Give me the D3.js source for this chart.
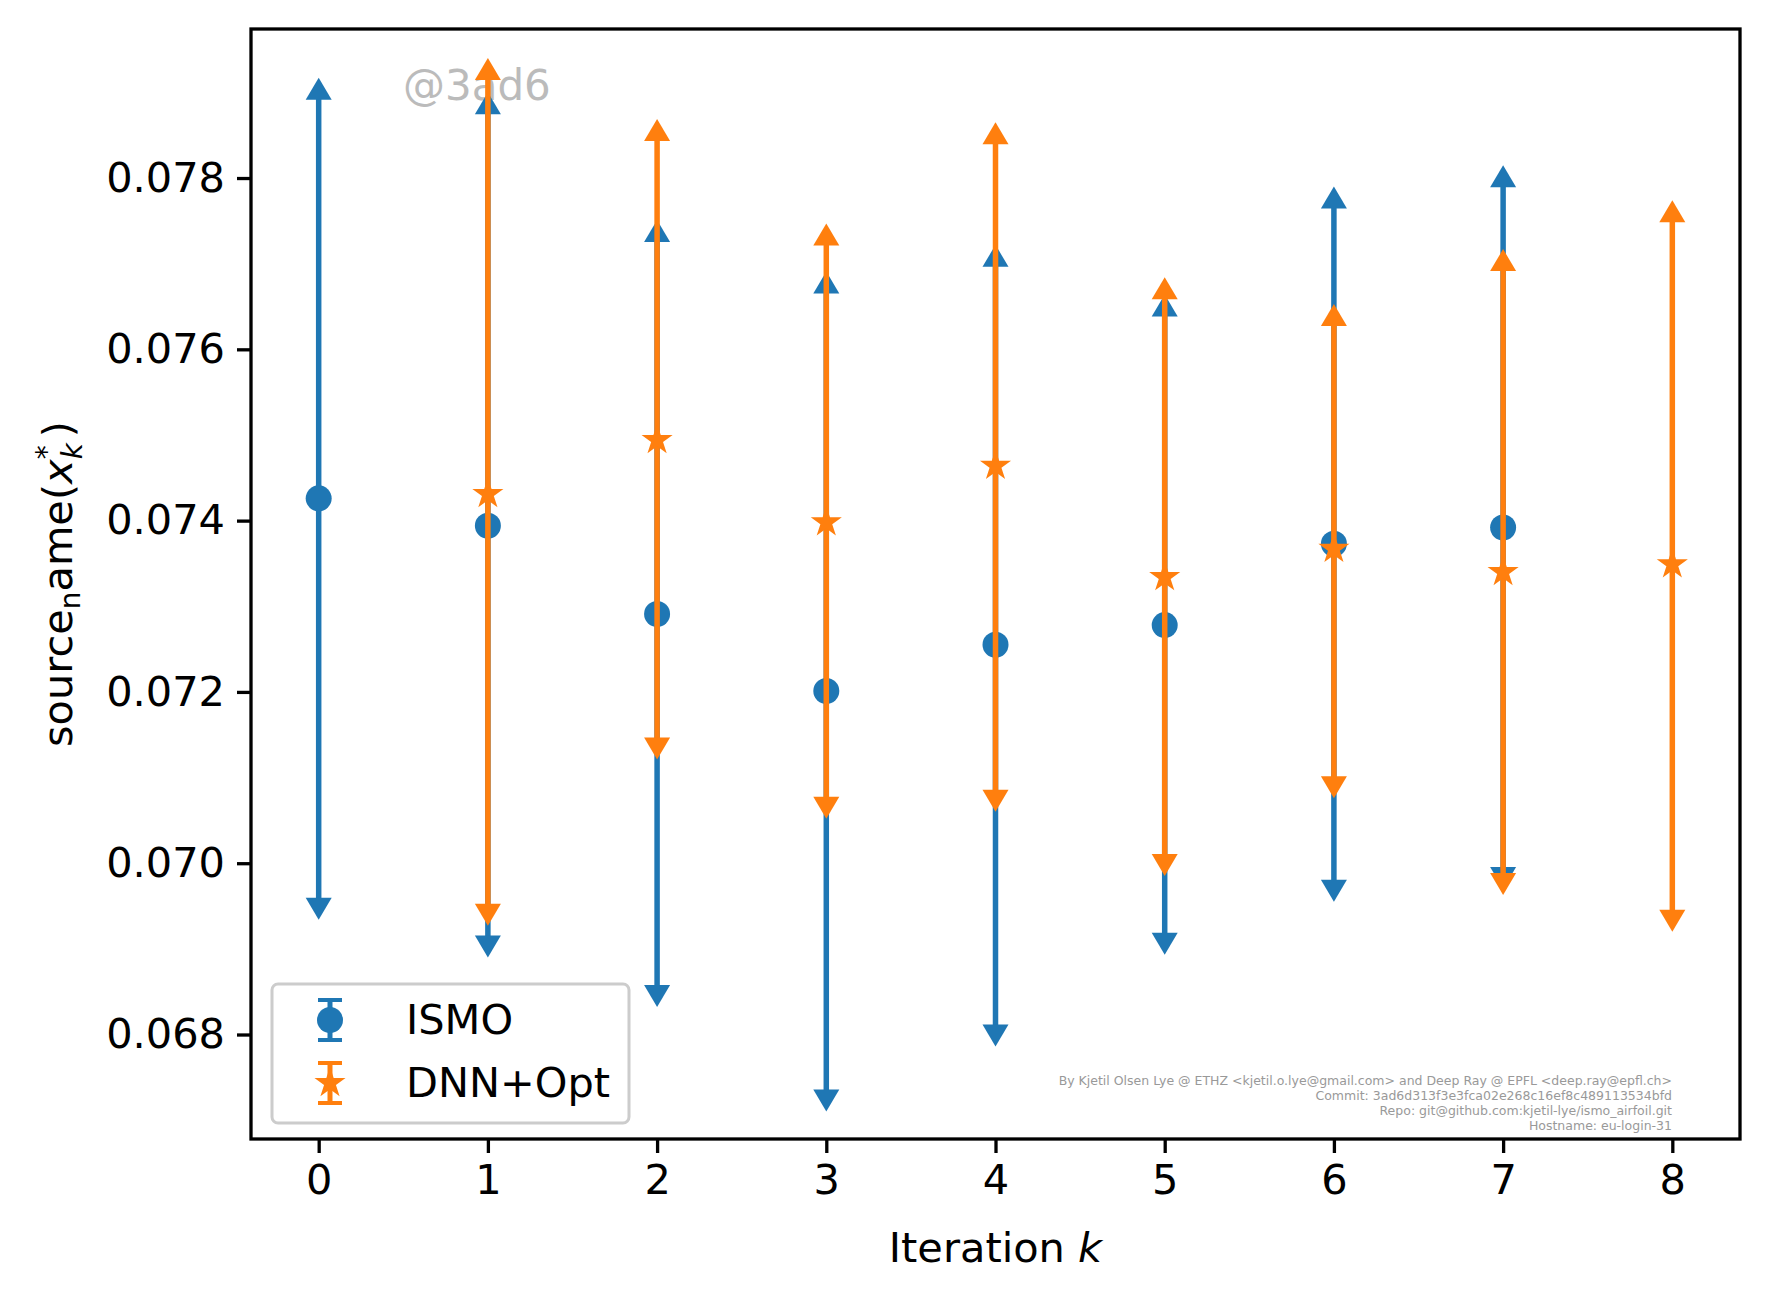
<!DOCTYPE html>
<html><head><meta charset="utf-8">
<script src="https://cdn.jsdelivr.net/npm/d3@7"></script>
<style>body{margin:0;background:#fff}text{font-family:"DejaVu Sans",sans-serif}</style>
</head><body>
<script>
var ismoK    = [0, 1, 2, 3, 4, 5, 6, 7]
var ismoMean = [0.07426, 0.07394, 0.07291, 0.07201, 0.07255, 0.07278, 0.07373, 0.07392]
var ismoHigh = [0.07903, 0.07886, 0.07737, 0.07677, 0.07708, 0.07650, 0.07776, 0.07801]
var ismoLow  = [0.06948, 0.06904, 0.06846, 0.06724, 0.06800, 0.06907, 0.06969, 0.06984]
var dnnK    = [1, 2, 3, 4, 5, 6, 7, 8]
var dnnMean = [0.07431, 0.07494, 0.07398, 0.07464, 0.07334, 0.07367, 0.07340, 0.07349]
var dnnHigh = [0.07926, 0.07855, 0.07733, 0.07851, 0.07670, 0.07639, 0.07703, 0.07760]
var dnnLow  = [0.06941, 0.07135, 0.07066, 0.07074, 0.06999, 0.07090, 0.06977, 0.06934]
var yTicks = [0.068, 0.070, 0.072, 0.074, 0.076, 0.078]
var xTicks = [0, 1, 2, 3, 4, 5, 6, 7, 8]

var W = 1767, H = 1298
var L = 251, R = 1740, T = 29, B = 1139
var svg = d3.select("body").append("svg").attr("width", W).attr("height", H)

var x = d3.scaleLinear().domain([-0.4, 8.4]).range([L, R])
var y = d3.scaleLinear().domain([0.06678, 0.07974]).range([B, T])

// axes
var xAxis = svg.append("g").attr("transform", "translate(0," + B + ")")
    .call(d3.axisBottom(x).tickValues(xTicks).tickSize(14).tickPadding(12).tickFormat(d3.format("d")))
var yAxis = svg.append("g").attr("transform", "translate(" + L + ",0)")
    .call(d3.axisLeft(y).tickValues(yTicks).tickSize(14).tickPadding(12).tickFormat(d3.format(".3f")))
;[xAxis, yAxis].forEach(function(a) {
    a.select(".domain").remove()
    a.selectAll("line").attr("stroke", "#000").attr("stroke-width", 3.3)
    a.selectAll("text").attr("font-size", 41.5).attr("fill", "#000").style("font-family", "DejaVu Sans")
})
svg.append("rect").attr("x", L).attr("y", T).attr("width", R - L).attr("height", B - T)
    .attr("fill", "none").attr("stroke", "#000").attr("stroke-width", 3.3)

// watermark
svg.append("text").attr("x", 403).attr("y", 100).attr("font-size", 42).attr("fill", "#bbb").text("@3ad6")

function triUp(cx, cy) { return "M" + (cx - 13) + "," + (cy + 10) + "L" + cx + "," + (cy - 12) + "L" + (cx + 13) + "," + (cy + 10) + "Z" }
function triDown(cx, cy) { return "M" + (cx - 13) + "," + (cy - 10) + "L" + cx + "," + (cy + 12) + "L" + (cx + 13) + "," + (cy - 10) + "Z" }
var star = d3.symbol().type(d3.symbolStar).size(300)

function series(ks, mean, hi, lo, color, kind) {
    var g = svg.append("g")
    ks.forEach(function(k, i) {
        var cx = x(k)
        g.append("line").attr("x1", cx).attr("x2", cx).attr("y1", y(lo[i])).attr("y2", y(hi[i]))
            .attr("stroke", color).attr("stroke-width", 5.5)
        g.append("path").attr("d", triUp(cx, y(hi[i]))).attr("fill", color)
        g.append("path").attr("d", triDown(cx, y(lo[i]))).attr("fill", color)
        if (kind == "circle") g.append("circle").attr("cx", cx).attr("cy", y(mean[i])).attr("r", 13).attr("fill", color)
        else g.append("path").attr("d", star).attr("transform", "translate(" + cx + "," + y(mean[i]) + ")").attr("fill", color)
    })
}
series(ismoK, ismoMean, ismoHigh, ismoLow, "#1f77b4", "circle")
series(dnnK, dnnMean, dnnHigh, dnnLow, "#ff7f0e", "star")

// labels
svg.append("text").attr("x", (L + R) / 2).attr("y", 1262).attr("text-anchor", "middle").attr("font-size", 41.5)
    .html('Iteration <tspan font-style="italic">k</tspan>')
svg.append("text").attr("transform", "translate(72," + (T + B) / 2 + ") rotate(-90)").attr("text-anchor", "middle")
    .attr("font-size", 41.5)
    .html('source<tspan font-size="28" dy="8">n</tspan><tspan dy="-8">ame(</tspan><tspan font-style="italic">x</tspan><tspan font-size="28" font-style="italic" dy="10">k</tspan><tspan font-size="28" dx="-16" dy="-26">*</tspan><tspan dy="16" dx="8">)</tspan>')

// legend
var lg = svg.append("g")
lg.append("rect").attr("x", 272).attr("y", 984).attr("width", 357).attr("height", 139).attr("rx", 6)
    .attr("fill", "#fff").attr("fill-opacity", 0.8).attr("stroke", "#ccc").attr("stroke-width", 3)
;[["ISMO", "#1f77b4", "circle", 1020], ["DNN+Opt", "#ff7f0e", "star", 1083]].forEach(function(e) {
    var cx = 330, cy = e[3]
    lg.append("line").attr("x1", cx).attr("x2", cx).attr("y1", cy - 20).attr("y2", cy + 20).attr("stroke", e[1]).attr("stroke-width", 5)
    lg.append("line").attr("x1", cx - 12).attr("x2", cx + 12).attr("y1", cy - 20).attr("y2", cy - 20).attr("stroke", e[1]).attr("stroke-width", 4)
    lg.append("line").attr("x1", cx - 12).attr("x2", cx + 12).attr("y1", cy + 20).attr("y2", cy + 20).attr("stroke", e[1]).attr("stroke-width", 4)
    if (e[2] == "circle") lg.append("circle").attr("cx", cx).attr("cy", cy).attr("r", 13).attr("fill", e[1])
    else lg.append("path").attr("d", star).attr("transform", "translate(" + cx + "," + cy + ")").attr("fill", e[1])
    lg.append("text").attr("x", 406).attr("y", cy + 14).attr("font-size", 41.5).text(e[0])
})

// credits
var credits = ["By Kjetil Olsen Lye @ ETHZ <kjetil.o.lye@gmail.com> and Deep Ray @ EPFL <deep.ray@epfl.ch>",
    "Commit: 3ad6d313f3e3fca02e268c16ef8c489113534bfd",
    "Repo: git@github.com:kjetil-lye/ismo_airfoil.git",
    "Hostname: eu-login-31"]
credits.forEach(function(t, i) {
    svg.append("text").attr("x", 1672).attr("y", 1085 + i * 15).attr("text-anchor", "end")
        .attr("font-size", 12.5).attr("fill", "#999").text(t)
})
</script>
</body></html>
